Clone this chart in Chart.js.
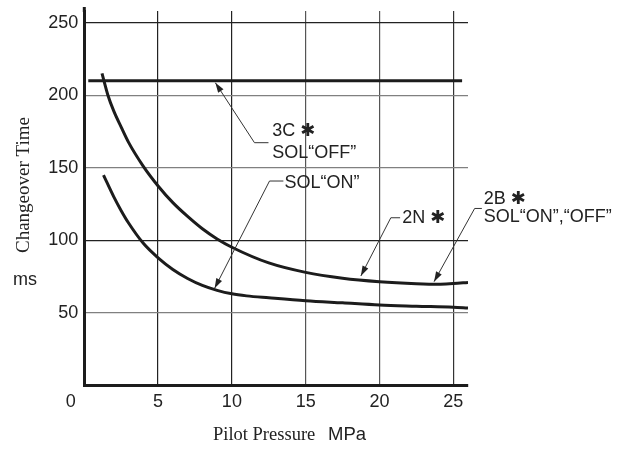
<!DOCTYPE html>
<html>
<head>
<meta charset="utf-8">
<script src="https://cdn.jsdelivr.net/npm/chart.js@4/dist/chart.umd.min.js"></script>
<style>
  html, body { margin: 0; padding: 0; background: #fff; }
  #wrap { width: 633px; height: 450px; }
</style>
</head>
<body>
<div id="wrap"><canvas id="chart"></canvas></div>
<script>
/* ── data ── */
const xTicks = [0, 5, 10, 15, 20, 25];
const yTicks = [50, 100, 150, 200, 250];

// 3C* SOL"OFF" – flat line
const offX = [0.27, 25.6];
const offY = [210, 210];

// 2N* / 2B* – upper curve
const upperX = [1.2, 1.6, 2, 2.5, 3, 4, 5, 6, 7, 8, 9, 10, 12.5, 15, 17.5, 20, 22.5, 24, 25, 26];
const upperY = [215, 200, 189, 178, 167.5, 151, 137.5, 126, 116.5, 108, 101, 95.3, 84.5, 78, 74, 71.6, 70.2, 69.8, 70.3, 71];

// SOL"ON" – lower curve
const lowerX = [1.3, 2, 2.5, 3, 4, 5, 6, 7, 8, 9, 10, 11, 12.5, 15, 17.5, 20, 22.5, 25, 26];
const lowerY = [145, 130, 120.5, 112, 98, 88, 80, 73.8, 69, 65.6, 63.2, 61.8, 60.5, 58.5, 57, 55.5, 54.7, 54, 53.5];

// leader notes, all in data units: arrow tip, elbow, end of short tick, text lines
const notes = [
  { tip: [8.88, 208.6], elbow: [11.53, 167.3], end: 12.48, textX: 12.73, lines: [['3C ✱', 175.3], ['SOL“OFF”', 160.2]] },
  { tip: [8.83, 67.0],  elbow: [12.55, 140.9], end: 13.49, textX: 13.56, lines: [['SOL“ON”', 139.3]] },
  { tip: [18.74, 75.5], elbow: [20.77, 115.6], end: 21.4,  textX: 21.55, lines: [['2N ✱', 115.2]] },
  { tip: [23.7, 71.6],  elbow: [26.45, 122.0], end: 26.94, textX: 27.07, lines: [['2B ✱', 128.3], ['SOL“ON”,“OFF”', 116.3]] },
];

const pts = (xs, ys) => xs.map((x, i) => ({ x, y: ys[i] }));

const SANS = '"Liberation Sans", Arial, "DejaVu Sans", sans-serif';
const SERIF = '"Liberation Serif", "Times New Roman", serif';

Chart.defaults.font.family = SANS;
Chart.defaults.font.size = 18;
Chart.defaults.color = '#222';

const yGrid = { 250: '#222', 200: '#808080', 150: '#808080', 100: '#222', 50: '#808080' };
const xGrid = { 5: '#222', 10: '#222', 15: '#555', 20: '#555', 25: '#333' };

/* ── titles + leader arrows ── */
const decorPlugin = {
  id: 'decor',
  afterDraw(chart) {
    const { ctx, chartArea, scales: { x, y } } = chart;
    const px = v => x.getPixelForValue(v);
    const py = v => y.getPixelForValue(v);
    ctx.save();
    ctx.fillStyle = '#222';
    ctx.textBaseline = 'middle';

    // y axis line runs a little above the grid
    ctx.strokeStyle = '#1c1c1c';
    ctx.lineWidth = 3;
    ctx.beginPath();
    ctx.moveTo(chartArea.left, chartArea.top + 1);
    ctx.lineTo(chartArea.left, chartArea.top - 4);
    ctx.stroke();

    // axis titles
    ctx.save();
    ctx.translate(24, 185);
    ctx.rotate(-Math.PI / 2);
    ctx.textAlign = 'center';
    ctx.font = '19px ' + SERIF;
    ctx.fillText('Changeover Time', 0, 0);
    ctx.restore();

    ctx.textAlign = 'center';
    ctx.font = '18px ' + SANS;
    ctx.fillText('ms', 25, 280);

    ctx.textAlign = 'left';
    ctx.font = '18.5px ' + SERIF;
    ctx.fillText('Pilot Pressure', 213, 435);
    ctx.font = '18.5px ' + SANS;
    ctx.fillText('MPa', 328, 435);

    // notes
    ctx.strokeStyle = '#333';
    ctx.lineWidth = 1;
    notes.forEach(n => {
      const tx = px(n.tip[0]), ty = py(n.tip[1]);
      const ex = px(n.elbow[0]), ey = py(n.elbow[1]);
      ctx.beginPath();
      ctx.moveTo(tx, ty);
      ctx.lineTo(ex, ey);
      ctx.lineTo(px(n.end), ey);
      ctx.stroke();

      const a = Math.atan2(ty - ey, tx - ex);
      const len = 10, hw = 3.2;
      ctx.beginPath();
      ctx.moveTo(tx, ty);
      ctx.lineTo(tx - len * Math.cos(a) + hw * Math.sin(a), ty - len * Math.sin(a) - hw * Math.cos(a));
      ctx.lineTo(tx - len * Math.cos(a) - hw * Math.sin(a), ty - len * Math.sin(a) + hw * Math.cos(a));
      ctx.closePath();
      ctx.fill();

      ctx.font = '18px ' + SANS;
      ctx.textAlign = 'left';
      n.lines.forEach(([t, v]) => ctx.fillText(t, px(n.textX), py(v)));
    });
    ctx.restore();
  },
};

const curve = (data) => ({
  data,
  borderColor: '#1c1c1c',
  borderWidth: 3,
  pointRadius: 0,
  showLine: true,
  fill: false,
  cubicInterpolationMode: 'monotone',
});

new Chart(document.getElementById('chart'), {
  type: 'scatter',
  data: {
    datasets: [
      curve(pts(offX, offY)),
      curve(pts(upperX, upperY)),
      curve(pts(lowerX, lowerY)),
    ],
  },
  options: {
    responsive: true,
    maintainAspectRatio: false,
    animation: false,
    layout: { padding: { top: 11, right: 165, left: 0, bottom: 0 } },
    plugins: { legend: { display: false }, tooltip: { enabled: false } },
    scales: {
      x: {
        type: 'linear',
        min: 0, max: 26,
        afterBuildTicks: s => { s.ticks = xTicks.map(v => ({ value: v })); },
        afterFit: s => { s.height = 64.4; s.paddingLeft = 0; s.paddingRight = 0; },
        ticks: {
          padding: 6,
          callback: v => v === 0 ? '0\u2002\u2002\u2002' : String(v),
        },
        grid: {
          drawTicks: false,
          color: c => xGrid[c.tick && c.tick.value] || 'rgba(0,0,0,0)',
          lineWidth: 1.2,
        },
        border: { color: '#1c1c1c', width: 3 },
      },
      y: {
        type: 'linear',
        min: 0, max: 258,
        afterBuildTicks: s => { s.ticks = yTicks.map(v => ({ value: v })); },
        afterFit: s => { s.width = 84.3; s.paddingTop = 0; s.paddingBottom = 0; },
        ticks: { padding: 6 },
        grid: {
          drawTicks: false,
          color: c => yGrid[c.tick && c.tick.value] || 'rgba(0,0,0,0)',
          lineWidth: 1.2,
        },
        border: { color: '#1c1c1c', width: 3 },
      },
    },
  },
  plugins: [decorPlugin],
});
</script>
</body>
</html>
